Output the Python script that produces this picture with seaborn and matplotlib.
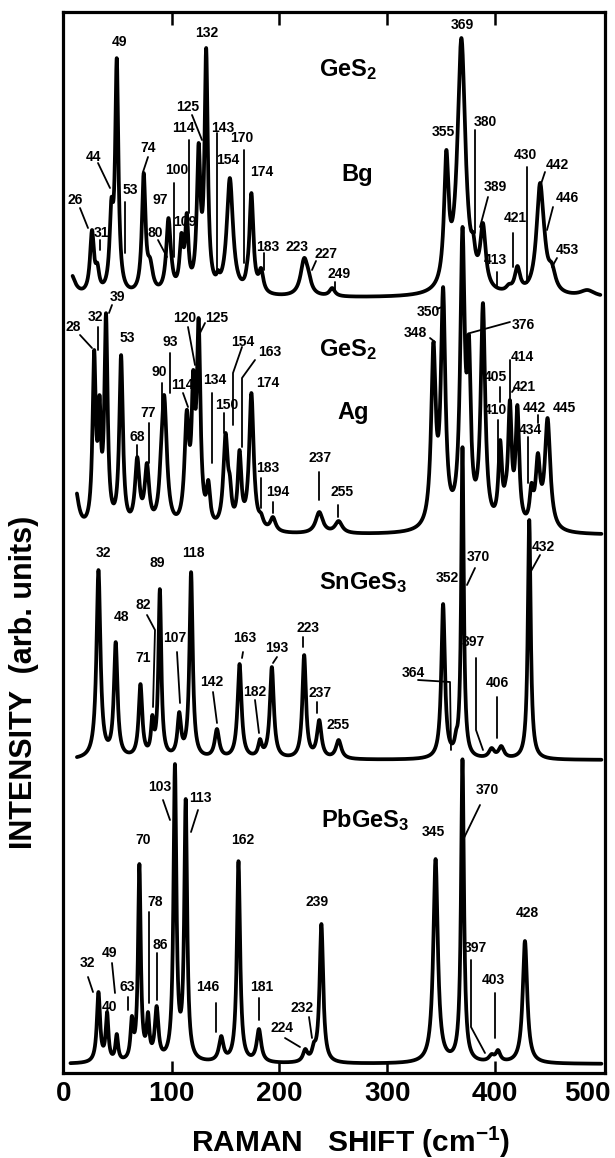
import numpy as np
import matplotlib
matplotlib.use("Agg")
import matplotlib.pyplot as plt
import matplotlib.transforms as mtrans
import seaborn as sns

# ---------------- data (peak position cm-1, peak height, half width) ----------------
bg_pos = [6, 26, 31, 44, 49, 53, 74, 80, 97, 100, 109, 114, 125, 132, 143, 154, 170, 174, 183,
          223, 227, 249, 355, 369, 380, 389, 413, 421, 430, 442, 446, 453, 486]
bg_hgt = [25, 68, 35, 100, 240, 45, 125, 40, 80, 40, 65, 85, 155, 250, 28, 120, 35, 105, 30,
          40, 28, 10, 148, 260, 65, 75, 14, 32, 15, 115, 70, 35, 8]
bg_wid = [5, 2.2, 2, 2, 1.8, 2, 2, 3, 2.5, 1.5, 2, 1.8, 2, 1.8, 1.5, 3.5, 1.5, 2.2, 2.5,
          4, 3, 3, 2.5, 4.5, 2, 3, 3, 3, 2, 4, 3, 4, 8]

ag_pos = [10, 28, 33, 39, 53, 68, 77, 90, 93, 114, 120, 125, 134, 150, 154, 163, 174, 183, 194,
          237, 255, 343, 352, 370, 376, 389, 405, 410, 414, 421, 434, 440, 449]
ag_hgt = [50, 185, 140, 222, 180, 78, 72, 88, 140, 125, 165, 217, 55, 102, 60, 85, 142, 22, 18,
          23, 14, 193, 248, 308, 200, 232, 95, 55, 135, 130, 52, 82, 117]
ag_wid = [4, 1.8, 1.5, 1.8, 2, 2.5, 2.5, 1.8, 3, 2.5, 1.8, 2, 2, 2.5, 1.8, 2, 2.5, 2.5, 3,
          4, 4, 2.5, 2.5, 2.5, 2, 2.5, 2, 1.8, 2, 2, 2, 2.5, 3]

sn_pos = [32, 48, 71, 82, 89, 107, 118, 142, 163, 182, 193, 223, 237, 255,
          352, 364, 370, 397, 406, 432]
sn_hgt = [190, 118, 76, 45, 171, 48, 188, 31, 96, 21, 93, 105, 40, 20,
          156, 30, 313, 12, 14, 240]
sn_wid = [2.2, 2, 2, 1.5, 1.6, 2, 1.8, 2.5, 2.2, 2, 2.2, 2, 2.5, 3,
          2, 1.5, 1.4, 3, 3, 1.6]

pb_pos = [32, 40, 49, 63, 70, 78, 86, 103, 113, 146, 162, 181, 224, 232, 239,
          345, 370, 397, 403, 428]
pb_hgt = [72, 52, 30, 48, 200, 52, 58, 300, 265, 28, 203, 35, 15, 22, 140,
          205, 305, 10, 14, 123]
pb_wid = [1.8, 1.5, 1.5, 1.5, 1.5, 1.5, 2, 1.6, 1.6, 2.5, 1.8, 2.5, 2.5, 2, 2,
          2.5, 1.6, 3, 2.5, 2.5]

# peak labels
bg_labels = ["26", "31", "44", "49", "53", "74", "80", "97", "100", "109", "114", "125", "132",
             "143", "154", "170", "174", "183", "223", "227", "249", "355", "369", "380", "389",
             "413", "421", "430", "442", "446", "453"]
ag_labels = ["28", "32", "39", "53", "68", "77", "90", "93", "114", "120", "125", "134", "150",
             "154", "163", "174", "183", "194", "237", "255", "348", "350", "376", "405", "414",
             "421", "410", "442", "434", "445"]
sn_labels = ["32", "48", "71", "82", "89", "107", "118", "142", "163", "182", "193", "223",
             "237", "255", "352", "364", "370", "397", "406", "432"]
pb_labels = ["32", "40", "49", "63", "70", "78", "86", "103", "113", "146", "162", "181",
             "224", "232", "239", "345", "370", "397", "403", "428"]

titles = ["GeS$_2$", "Bg", "GeS$_2$", "Ag", "SnGeS$_3$", "PbGeS$_3$"]
x_ticks = [0, 100, 200, 300, 400, 500]

# ---------------- layout (figure pixel coordinates) ----------------
PX0, PXS, PYB = 64.0, 1.077, 1073.0
def X(px):
    return (px - PX0) / PXS
def Y(py):
    return PYB - py

baselines_px = [298, 535, 760, 1064]
ranges = [(8, 498), (12, 499), (12, 499), (6, 499)]

bg_lay = [(75, 200, [(80, 208), (88, 228)]), (101, 233, [(100, 240), (100, 250)]),
          (93, 157, [(98, 163), (110, 188)]), (120, 42, None), (130, 190, [(125, 202), (125, 253)]),
          (148, 148, [(148, 157), (143, 172)]), (155, 233, [(158, 240), (167, 257)]),
          (160, 200, None), (177, 170, [(174, 183), (174, 257)]), (185, 222, None),
          (183, 128, [(189, 140), (189, 213)]), (188, 107, [(192, 115), (202, 140)]),
          (207, 33, None), (223, 128, [(217, 133), (217, 273)]), (228, 160, None),
          (242, 138, [(244, 150), (244, 263)]), (262, 172, None),
          (268, 247, [(264, 253), (264, 270)]), (297, 247, None),
          (326, 254, [(316, 261), (312, 270)]), (339, 274, [(335, 282), (335, 292)]),
          (443, 132, None), (462, 25, None), (485, 122, [(475, 130), (475, 233)]),
          (495, 187, [(488, 197), (480, 227)]), (495, 260, [(497, 272), (497, 287)]),
          (515, 218, [(513, 233), (513, 267)]), (525, 155, [(527, 167), (527, 283)]),
          (557, 165, [(545, 172), (540, 187)]), (567, 198, [(553, 207), (547, 230)]),
          (567, 250, [(557, 258), (552, 267)])]
ag_lay = [(73, 327, [(80, 335), (92, 348)]), (95, 317, [(98, 327), (98, 350)]),
          (117, 297, [(112, 305), (109, 313)]), (127, 338, None),
          (137, 437, [(137, 445), (137, 457)]), (148, 413, [(149, 423), (149, 463)]),
          (159, 372, [(162, 383), (162, 437)]), (170, 342, [(170, 353), (170, 393)]),
          (182, 385, [(183, 393), (188, 407)]), (185, 318, [(188, 327), (195, 365)]),
          (217, 318, [(205, 323), (200, 333)]), (215, 380, [(212, 393), (212, 463)]),
          (227, 405, [(224, 413), (224, 433)]), (243, 342, [(242, 347), (233, 373), (233, 425)]),
          (270, 352, [(255, 360), (242, 378), (242, 447)]), (268, 383, None),
          (268, 468, [(261, 478), (261, 508)]), (278, 492, [(273, 502), (273, 513)]),
          (320, 458, [(319, 472), (319, 500)]), (342, 492, [(338, 505), (338, 517)]),
          (415, 333, [(430, 338), (435, 342)]), (428, 312, [(437, 309), (442, 307)]),
          (523, 325, [(510, 322), (470, 333)]), (495, 377, [(500, 387), (500, 402)]),
          (522, 357, [(510, 360), (510, 400)]), (524, 387, [(515, 388), (512, 392)]),
          (495, 410, [(498, 420), (498, 490)]), (534, 408, [(538, 415), (538, 423)]),
          (530, 430, [(528, 437), (528, 483)]), (564, 408, None)]
sn_lay = [(103, 553, None), (122, 617, None), (143, 658, None),
          (143, 605, [(147, 615), (155, 630), (153, 707)]), (157, 563, None),
          (175, 638, [(177, 652), (180, 703)]), (193, 553, None),
          (212, 682, [(213, 692), (217, 723)]), (245, 638, [(243, 652), (242, 658)]),
          (255, 692, [(255, 700), (259, 733)]), (277, 648, [(277, 657), (273, 663)]),
          (308, 628, [(303, 637), (303, 647)]), (320, 693, [(317, 702), (317, 713)]),
          (338, 725, None), (447, 578, None),
          (413, 673, [(418, 680), (450, 682), (451, 750)]),
          (478, 557, [(475, 568), (467, 585)]),
          (473, 642, [(476, 658), (476, 730), (483, 750)]),
          (497, 683, [(497, 697), (497, 738)]), (543, 547, [(540, 555), (530, 573)])]
pb_lay = [(87, 963, [(88, 977), (93, 992)]), (109, 1007, None),
          (110, 953, [(112, 963), (115, 993)]), (127, 987, [(128, 997), (128, 1010)]),
          (143, 840, None), (155, 902, [(149, 912), (149, 1003)]),
          (160, 945, [(157, 953), (157, 1000)]), (160, 787, [(163, 800), (170, 820)]),
          (200, 798, [(198, 810), (191, 832)]), (208, 987, [(216, 1003), (216, 1032)]),
          (243, 840, None), (262, 987, [(259, 998), (259, 1020)]),
          (282, 1028, [(285, 1038), (300, 1047)]), (302, 1008, [(309, 1017), (312, 1038)]),
          (317, 902, None), (433, 832, None), (487, 790, [(480, 805), (463, 840)]),
          (475, 948, [(471, 960), (471, 1027), (485, 1053)]),
          (493, 980, [(495, 993), (495, 1038)]), (527, 913, None)]
title_lay = [(348, 70), (357, 175), (348, 350), (353, 413), (363, 583), (365, 820)]


def spectrum(xg, pos, hgt, wid):
    pos = np.asarray(pos, float)
    hgt = np.asarray(hgt, float)
    wid = np.asarray(wid, float)
    M = 1.0 / (1.0 + ((pos[:, None] - pos[None, :]) / wid[None, :]) ** 2)
    amp = hgt.copy()
    for _ in range(3000):
        amp = np.clip(amp + 0.25 * (hgt - M @ amp), 0, None)
    return (amp[None, :] / (1.0 + ((xg[:, None] - pos[None, :]) / wid[None, :]) ** 2)).sum(1)


sns.set_style("white")
plt.rcParams['font.family'] = ['Liberation Sans', 'DejaVu Sans']
plt.rcParams['font.weight'] = 'bold'
plt.rcParams['text.color'] = 'black'
plt.rcParams['axes.labelcolor'] = 'black'
plt.rcParams['xtick.color'] = 'black'
plt.rcParams['mathtext.fontset'] = 'custom'
plt.rcParams['mathtext.rm'] = 'Liberation Sans:bold'
plt.rcParams['mathtext.it'] = 'Liberation Sans:bold'
plt.rcParams['mathtext.bf'] = 'Liberation Sans:bold'

W, H = 615, 1158
fig = plt.figure(figsize=(W / 100, H / 100), dpi=100)
ax = fig.add_axes([63 / W, 1 - 1073 / H, (605 - 63) / W, (1073 - 12) / H])
ax.set_xlim(X(63), X(605))
ax.set_ylim(Y(1073), Y(12))

series = [(bg_pos, bg_hgt, bg_wid), (ag_pos, ag_hgt, ag_wid),
          (sn_pos, sn_hgt, sn_wid), (pb_pos, pb_hgt, pb_wid)]
for (pos, hgt, wid), base, (x0, x1) in zip(series, baselines_px, ranges):
    xg = np.linspace(x0, x1, 4000)
    yv = Y(base) + spectrum(xg, pos, hgt, wid)
    sns.lineplot(x=xg, y=yv, ax=ax, color='black', linewidth=2.7,
                 estimator=None, sort=False, solid_capstyle='round')

def put_labels(labels, lay):
    for lab, (tx, ty, lead) in zip(labels, lay):
        ax.text(X(tx), Y(ty), lab, ha='center', va='center', fontsize=10,
                fontweight='bold', color='black')
        if lead:
            ax.plot([X(p[0]) for p in lead], [Y(p[1]) for p in lead],
                    color='black', lw=1.3, solid_capstyle='round')

put_labels(bg_labels, bg_lay)
put_labels(ag_labels, ag_lay)
put_labels(sn_labels, sn_lay)
put_labels(pb_labels, pb_lay)

for t, (tx, ty) in zip(titles, title_lay):
    ax.text(X(tx), Y(ty), t, ha='center', va='center', fontsize=17, fontweight='bold',
            color='black')

ax.set_yticks([])
ax.set_xticks(x_ticks)
ax.set_xticklabels([str(v) for v in x_ticks], fontsize=20, fontweight='bold', color='black')
ax.tick_params(axis='x', direction='in', length=9, width=1.8, top=True, bottom=True,
               labeltop=False, pad=6, colors='black')
mt = ax.xaxis.get_major_ticks()
for t in (mt[0], mt[-1]):
    t.tick1line.set_visible(False)
    t.tick2line.set_visible(False)
last = ax.get_xticklabels()[-1]
last.set_horizontalalignment('right')
last.set_transform(last.get_transform() +
                   mtrans.ScaledTranslation(8 / 100, 0, fig.dpi_scale_trans))
for s in ax.spines.values():
    s.set_visible(True)
    s.set_linewidth(2.3)
    s.set_color('black')

fig.text(24 / W, 1 - 682 / H, "INTENSITY  (arb. units)", rotation=90, ha='center',
         va='center', fontsize=22, fontweight='bold', color='black')
fig.text(351 / W, 1 - 1142 / H, "RAMAN   SHIFT (cm$^{-1}$)", ha='center', va='center',
         fontsize=21.5, fontweight='bold', color='black')

fig.savefig("out.png", dpi=100, facecolor='white')
